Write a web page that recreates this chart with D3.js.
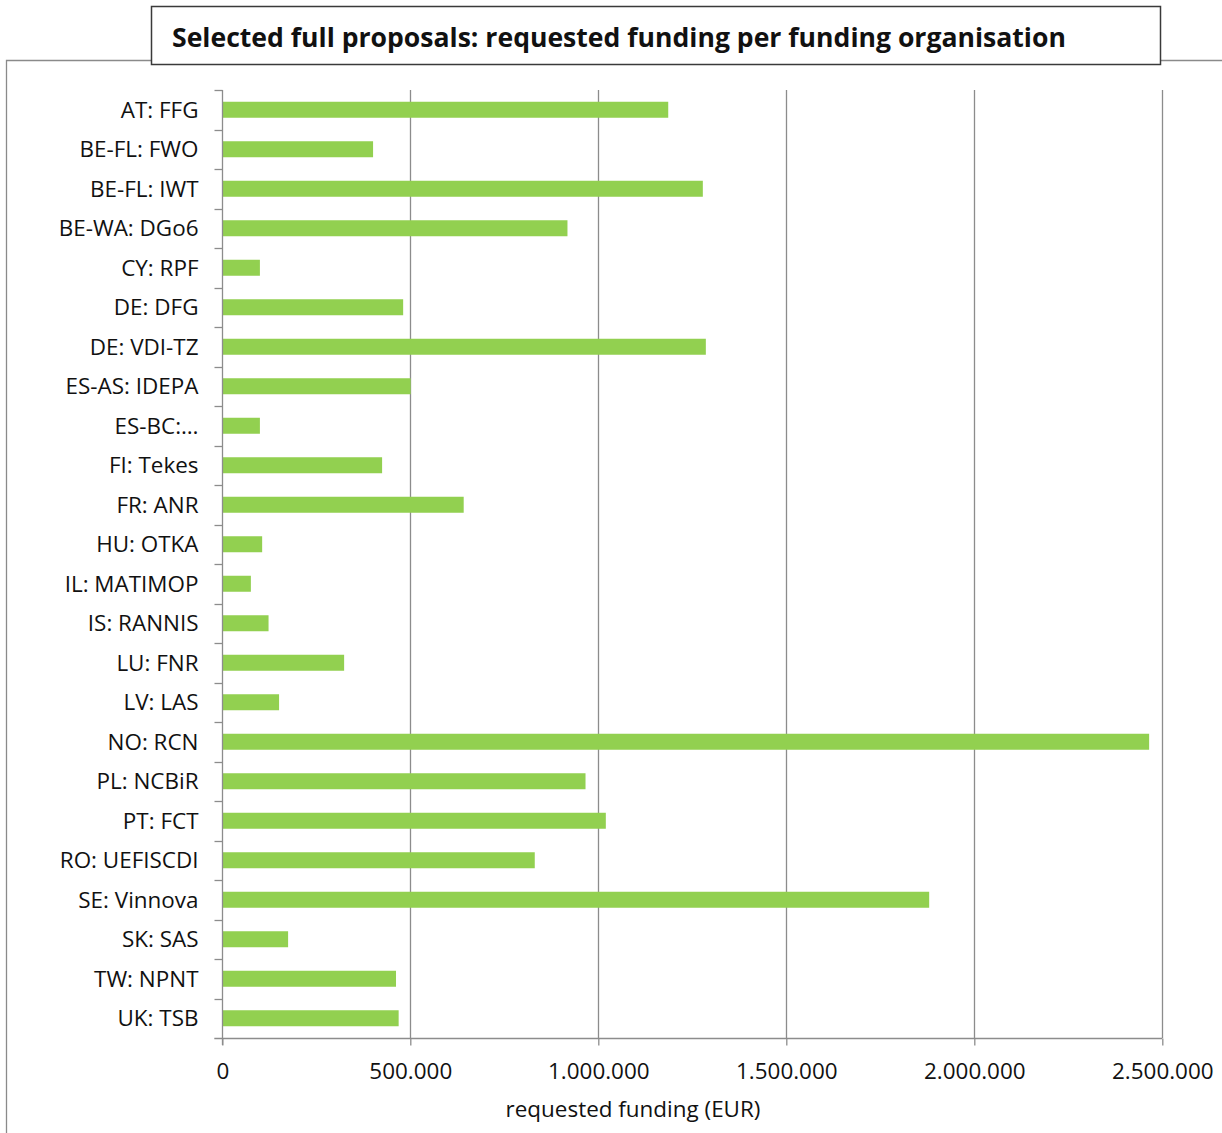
<!DOCTYPE html>
<html>
<head>
<meta charset="utf-8">
<script src="https://cdn.jsdelivr.net/npm/d3@7"></script>
<style>
  html, body { margin: 0; padding: 0; background: #fff; }
  svg { display: block; }
  text { font-family: "Open Sans", sans-serif; fill: #111; }
</style>
</head>
<body>
<svg id="chart" width="1222" height="1133"></svg>
<script>
const categories = [
  "AT: FFG", "BE-FL: FWO", "BE-FL: IWT", "BE-WA: DGo6", "CY: RPF", "DE: DFG",
  "DE: VDI-TZ", "ES-AS: IDEPA", "ES-BC:…", "FI: Tekes", "FR: ANR", "HU: OTKA",
  "IL: MATIMOP", "IS: RANNIS", "LU: FNR", "LV: LAS", "NO: RCN", "PL: NCBiR",
  "PT: FCT", "RO: UEFISCDI", "SE: Vinnova", "SK: SAS", "TW: NPNT", "UK: TSB"
];
const requestedFunding = [
  1186000, 401000, 1278000, 918000, 100000, 481000,
  1286000, 501000, 100000, 425000, 642000, 106000,
  76000, 123000, 324000, 151000, 2465000, 966000,
  1020000, 831000, 1880000, 175000, 462000, 469000
];
const xTicks = [0, 500000, 1000000, 1500000, 2000000, 2500000];
const titleText = "Selected full proposals: requested funding per funding organisation";
const xAxisTitle = "requested funding (EUR)";

(function () {
const svg = d3.select("#chart");
const mLeft = 222.3, mRight = 1162.3, mTop = 90, mBottom = 1038;
const gridColor = "#8c8c8c";

// determine label font size from a reference width
const probe = svg.append("text").attr("font-size", 20).text(xAxisTitle);
const fs = 20 * 255 / probe.node().getComputedTextLength();
probe.remove();

// outer frame
svg.append("path")
  .attr("d", `M6.5,1133 L6.5,60.5 L1222,60.5`)
  .attr("fill", "none").attr("stroke", "#8a8a8a").attr("stroke-width", 1.3);

const x = d3.scaleLinear().domain([0, 2500000]).range([mLeft, mRight]);
const y = d3.scaleBand().domain(categories).range([mTop, mBottom])
  .paddingInner(0.595).paddingOuter(0.2975);
const yCells = d3.scaleBand().domain(categories).range([mTop, mBottom]).padding(0);

const locale = d3.formatLocale({ decimal: ",", thousands: ".", grouping: [3], currency: ["", "€"] });
const fmt = locale.format(",");

// gridlines
svg.append("g").selectAll("line")
  .data(xTicks.filter(d => d > 0))
  .join("line")
  .attr("x1", d => Math.round(x(d)) + 0.5).attr("x2", d => Math.round(x(d)) + 0.5)
  .attr("y1", mTop).attr("y2", mBottom)
  .attr("stroke", gridColor).attr("stroke-width", 1.3);

// bars
svg.append("g").selectAll("rect")
  .data(categories.map((c, i) => ({ c, v: requestedFunding[i] })))
  .join("rect")
  .attr("x", x(0))
  .attr("y", d => y(d.c))
  .attr("width", d => x(d.v) - x(0))
  .attr("height", y.bandwidth())
  .attr("fill", "#92d050");

// x axis
const xAxis = d3.axisBottom(x).tickValues(xTicks).tickFormat(fmt).tickSize(7).tickPadding(18);
const gx = svg.append("g").attr("transform", `translate(0,${mBottom + 0.5})`).call(xAxis);
gx.select(".domain").attr("d", `M${mLeft - 8},0H${mRight}`).attr("stroke", gridColor).attr("stroke-width", 1.3);
gx.selectAll(".tick line").attr("stroke", gridColor).attr("stroke-width", 1.3);
gx.selectAll(".tick text").attr("font-size", fs).attr("fill", "#111")
  .attr("font-family", '"Open Sans", sans-serif');

// y axis
const gy = svg.append("g").attr("transform", `translate(${Math.round(mLeft) + 0.5},0)`);
gy.append("line").attr("x1", 0).attr("x2", 0).attr("y1", mTop).attr("y2", mBottom + 7)
  .attr("stroke", gridColor).attr("stroke-width", 1.3);
const boundaries = categories.map(c => yCells(c));
gy.selectAll("line.tk").data(boundaries).join("line").attr("class", "tk")
  .attr("x1", -8).attr("x2", 0).attr("y1", d => Math.round(d) + 0.5).attr("y2", d => Math.round(d) + 0.5)
  .attr("stroke", gridColor).attr("stroke-width", 1.3);
gy.selectAll("text").data(categories).join("text")
  .attr("x", -24)
  .attr("y", d => yCells(d) + yCells.bandwidth() / 2)
  .attr("dy", "0.35em")
  .attr("text-anchor", "end")
  .attr("font-size", fs)
  .text(d => d);

// x axis title
svg.append("text")
  .attr("x", 633).attr("y", 1117)
  .attr("text-anchor", "middle")
  .attr("font-size", fs)
  .text(xAxisTitle);

// title box
svg.append("rect").attr("x", 151.5).attr("y", 6.5).attr("width", 1009).attr("height", 58)
  .attr("fill", "#fff").attr("stroke", "#3a3a3a").attr("stroke-width", 1.5);
const t = svg.append("text")
  .attr("x", 172).attr("y", 47)
  .attr("font-family", 'Lato, "Open Sans", sans-serif')
  .attr("font-weight", "bold")
  .attr("font-size", 28)
  .text(titleText);
const w = t.node().getComputedTextLength();
t.attr("font-size", 28 * 894 / w);
})();
</script>
</body>
</html>
